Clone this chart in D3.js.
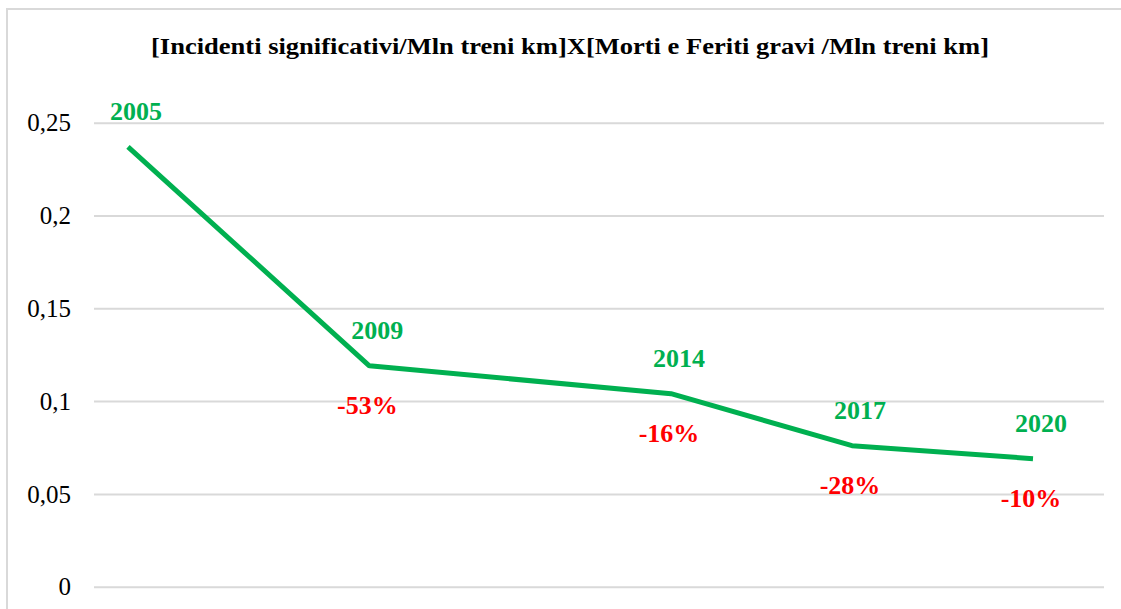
<!DOCTYPE html>
<html>
<head>
<meta charset="utf-8">
<script src="https://cdn.jsdelivr.net/npm/d3@7"></script>
<style>
  body { margin:0; background:#fff; }
  svg text { font-family:"Liberation Serif","Times New Roman",serif; }
</style>
</head>
<body>
<div class="chart"></div>
<script>
// dati
const years = [2005, 2009, 2014, 2017, 2020];
const values = [0.237, 0.119, 0.104, 0.076, 0.069];
const changes = ['', '-53%', '-16%', '-28%', '-10%'];
const yTicks = [0, 0.05, 0.1, 0.15, 0.2, 0.25];
const title = '[Incidenti significativi/Mln treni km]X[Morti e Feriti gravi /Mln treni km]';

const width = 1121, height = 609;
const svg = d3.select('.chart').append('svg')
  .attr('width', width).attr('height', height);

// bordo del riquadro
svg.append('rect')
  .attr('x', 7).attr('y', 9)
  .attr('width', width + 10).attr('height', height + 10)
  .attr('fill', 'none').attr('stroke', '#d9d9d9').attr('stroke-width', 2);

const xScale = d3.scaleLinear().domain([2005, 2020]).range([128, 1033]);
const yScale = d3.scaleLinear().domain([0, 0.25]).range([586.7, 122.7]);

// griglia + etichette asse y
const yAxis = d3.axisLeft(yScale).tickValues(yTicks)
  .tickFormat(d => d3.format('~g')(d).replace('.', ','))
  .tickSize(-(1104 - 94)).tickPadding(23);
const yAxisDraw = svg.append('g')
  .attr('transform', 'translate(94,0)')
  .call(yAxis);
yAxisDraw.select('.domain').remove();
yAxisDraw.selectAll('line').attr('stroke', '#d9d9d9').attr('stroke-width', 2);
yAxisDraw.selectAll('text')
  .style('font-size', '25px').attr('fill', '#000').attr('dy', '0.33em');

// titolo
svg.append('text')
  .attr('x', 570).attr('y', 54)
  .attr('text-anchor', 'middle')
  .attr('textLength', 838).attr('lengthAdjust', 'spacingAndGlyphs')
  .style('font-size', '23px').style('font-weight', 'bold')
  .text(title);

const pts = years.map((y, i) => ({year: y, value: values[i], change: changes[i]}));

// linea
const line = d3.line().x(d => xScale(d.year)).y(d => yScale(d.value));
svg.append('path').datum(pts)
  .attr('d', line)
  .attr('fill', 'none')
  .attr('stroke', '#00b050')
  .attr('stroke-width', 5)
  .attr('stroke-linejoin', 'bevel');

// anni (verde)
svg.selectAll('.year-label').data(pts).join('text')
  .attr('class', 'year-label')
  .attr('x', d => xScale(d.year) + 8)
  .attr('y', d => yScale(d.value) - 27)
  .attr('text-anchor', 'middle')
  .style('font-size', '26px').style('font-weight', 'bold')
  .attr('fill', '#00b050')
  .text(d => d.year);

// variazioni (rosso)
svg.selectAll('.change-label').data(pts.filter(d => d.change)).join('text')
  .attr('class', 'change-label')
  .attr('x', d => xScale(d.year) - 2)
  .attr('y', d => yScale(d.value) + 48)
  .attr('text-anchor', 'middle')
  .style('font-size', '26px').style('font-weight', 'bold')
  .attr('fill', '#ff0000')
  .text(d => d.change);
</script>
</body>
</html>
